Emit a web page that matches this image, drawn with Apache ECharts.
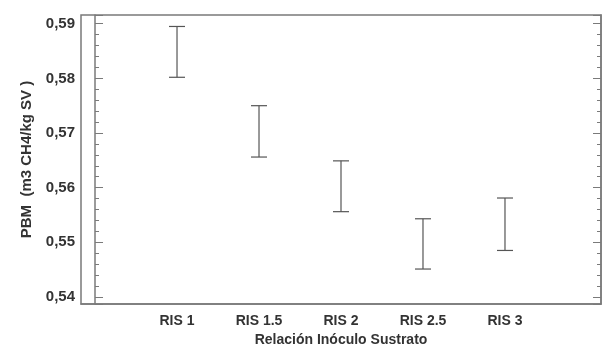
<!DOCTYPE html>
<html><head><meta charset="utf-8">
<script src="https://cdn.jsdelivr.net/npm/echarts@6/dist/echarts.min.js"></script>
<style>html,body{margin:0;padding:0;background:#fff}#c{width:610px;height:348px}</style>
</head><body><div id="c"></div>
<script>
const categories = ['RIS 1', 'RIS 1.5', 'RIS 2', 'RIS 2.5', 'RIS 3'];
const lowerValues = [0.5802, 0.5656, 0.5556, 0.5451, 0.5485];
const upperValues = [0.5895, 0.5750, 0.5649, 0.5543, 0.5581];
const xTitle = 'Relación Inóculo Sustrato';
const yTitle = 'PBM  (m3 CH4/kg SV )';

const barData = categories.map((c, i) => [i + 1, lowerValues[i], upperValues[i]]);
const fmt = v => v.toFixed(2).replace('.', ',');
const font = 'Liberation Sans, Arial, sans-serif';
const chart = echarts.init(document.getElementById('c'), null, {renderer: 'canvas'});
chart.setOption({
  backgroundColor: '#fff',
  animation: false,
  grid: {left: 81, right: 9, top: 15, bottom: 44, outerBoundsMode: 'none', containLabel: false,
    show: true, borderColor: '#7a7a7a', borderWidth: 1.5, backgroundColor: '#fff'},
  xAxis: {
    type: 'value', min: -0.171, max: 6.171,
    name: xTitle, nameLocation: 'middle', nameGap: 27,
    nameTextStyle: {fontFamily: font, fontWeight: 'bold', fontSize: 14, color: '#333'},
    axisLine: {show: true, lineStyle: {color: '#7a7a7a', width: 1.5}},
    axisTick: {show: false},
    splitLine: {show: false},
    axisLabel: {customValues: [1, 2, 3, 4, 5], formatter: v => categories[Math.round(v) - 1] || '',
      fontFamily: font, fontWeight: 'bold', fontSize: 14, color: '#333', margin: 10}
  },
  yAxis: [{
    type: 'value', min: 0.5387, max: 0.5916, splitNumber: 5,
    name: yTitle, nameLocation: 'middle', nameGap: 47, nameRotate: 90,
    nameTextStyle: {fontFamily: font, fontWeight: 'bold', fontSize: 15, color: '#333'},
    axisLine: {show: true, lineStyle: {color: '#7a7a7a', width: 1.5}},
    axisTick: {show: true, inside: true, length: 8, lineStyle: {color: '#7a7a7a'}},
    minorTick: {show: true, splitNumber: 5, length: 4, lineStyle: {color: '#7a7a7a'}},
    splitLine: {show: false},
    axisLabel: {formatter: fmt, showMinLabel: false, showMaxLabel: false,
      fontFamily: font, fontWeight: 'bold', fontSize: 15, color: '#333', margin: 6}
  }, {
    type: 'value', min: 0.5387, max: 0.5916, splitNumber: 5, position: 'right',
    axisLine: {show: true, lineStyle: {color: '#7a7a7a', width: 1.5}},
    axisTick: {show: true, inside: true, length: 8, lineStyle: {color: '#7a7a7a'}},
    minorTick: {show: true, splitNumber: 5, length: 4, lineStyle: {color: '#7a7a7a'}},
    splitLine: {show: false},
    axisLabel: {show: false}
  }],
  series: [{
    type: 'custom',
    data: barData,
    renderItem: function (params, api) {
      const x = api.value(0);
      const lo = api.coord([x, api.value(1)]);
      const hi = api.coord([x, api.value(2)]);
      const hw = 8;
      const style = {stroke: '#555', lineWidth: 1.2};
      return {type: 'group', children: [
        {type: 'line', shape: {x1: lo[0], y1: lo[1], x2: hi[0], y2: hi[1]}, style},
        {type: 'line', shape: {x1: lo[0] - hw, y1: lo[1], x2: lo[0] + hw, y2: lo[1]}, style},
        {type: 'line', shape: {x1: hi[0] - hw, y1: hi[1], x2: hi[0] + hw, y2: hi[1]}, style}
      ]};
    }
  }]
});
</script></body></html>
